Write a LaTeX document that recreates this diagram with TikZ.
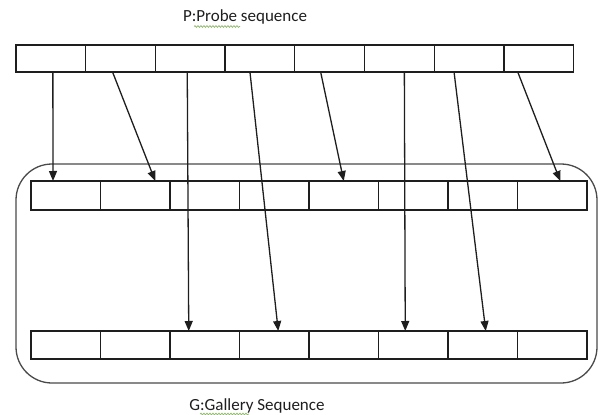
\documentclass[tikz,border=0pt]{standalone}
\usepackage{fontspec}
\setmainfont{Carlito}
\usetikzlibrary{arrows.meta,decorations.pathmorphing}
\definecolor{ink}{HTML}{1E1E1E}
\definecolor{frame}{HTML}{4A4A4A}
\definecolor{squig}{HTML}{8DB86A}
\tikzset{
  cellbox/.style={draw=ink,line width=1.3pt,minimum width=69.7pt,minimum height=27pt,inner sep=0pt,outer sep=0pt},
  gcell/.style={cellbox,minimum width=69.5pt},
  link/.style={draw=ink,line width=1.3pt,-{Triangle[length=10pt,width=8pt]}},
  lbl/.style={font=\fontsize{17}{19}\selectfont,text=ink,inner sep=0pt},
  wavy/.style={draw=squig,line width=0.7pt,decorate,decoration={snake,amplitude=0.9pt,segment length=3pt}}
}
\begin{document}
\begin{tikzpicture}[x=1pt,y=-1pt]
\useasboundingbox (0,0) rectangle (598,415);
% gallery frame
\draw[frame,line width=1.3pt,rounded corners=36pt] (16,164) rectangle (597,383);
% rows of cells
\foreach \i in {1,...,8}{
  \node[cellbox] (P\i) at ({16+69.7*(\i-0.5)},58.5) {};
  \node[gcell,minimum height=29pt] (A\i) at ({31+69.5*(\i-0.5)},195.5) {};
  \node[gcell,minimum height=28pt] (B\i) at ({31+69.5*(\i-0.5)},345) {};
}
\node[lbl] (ptitle) at (245,17) {P:Probe sequence};
\node[lbl] (gtitle) at (257,406) {G:Gallery Sequence};
\draw[wavy] (194,26.5) -- (240,26.5);
\draw[wavy] (200,414) -- (249,414);
% links
\draw[link] ([xshift=2pt]P1.south) -- ([xshift=-12.75pt]A1.north);
\draw[link] ([xshift=-8pt]P2.south) -- ([xshift=20pt]A2.north);
\draw[link] ([xshift=-3pt]P3.south) -- ([xshift=-16pt]B3.north);
\draw[link] ([xshift=-10pt]P4.south) -- ([xshift=4pt]B4.north);
\draw[link] ([xshift=-9pt]P5.south) -- ([xshift=0pt]A5.north);
\draw[link] ([xshift=5pt]P6.south) -- ([xshift=-8pt]B6.north);
\draw[link] ([xshift=-15pt]P7.south) -- ([xshift=3pt]B7.north);
\draw[link] ([xshift=-21pt]P8.south) -- ([xshift=8pt]A8.north);
\end{tikzpicture}
\end{document}
